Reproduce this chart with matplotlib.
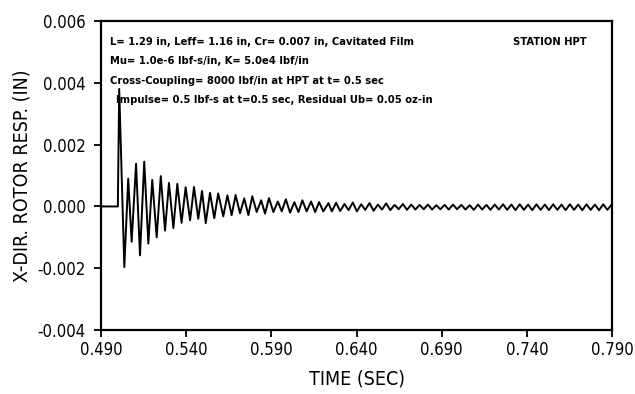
import numpy as np
import matplotlib
matplotlib.use('Agg')
import matplotlib.pyplot as plt
import matplotlib.ticker as ticker

# response extrema (time in sec, displacement in inches)
t_start = [0.4900, 0.4999, 0.5007, 0.5037]
x_start = [0.0, 0.0, 0.0038, -0.00196]

t_ring = [0.5060, 0.5080, 0.5106, 0.5129, 0.5154, 0.5178, 0.5201, 0.5227,
          0.5251, 0.5276, 0.5299, 0.5325, 0.5348, 0.5373, 0.5397, 0.5423,
          0.5446, 0.5471, 0.5493, 0.5515, 0.5540, 0.5565, 0.5588, 0.5618,
          0.5642, 0.5667, 0.5690, 0.5716, 0.5741, 0.5765, 0.5788, 0.5814,
          0.5840, 0.5863, 0.5886, 0.5912, 0.5938, 0.5961, 0.5985, 0.6010,
          0.6035, 0.6059, 0.6082, 0.6107, 0.6133, 0.6157, 0.6180, 0.6205,
          0.6235, 0.6255]
x_ring = [0.00090, -0.00114, 0.00138, -0.00158, 0.00145, -0.00120, 0.00086, -0.00100,
          0.00098, -0.00078, 0.00076, -0.00070, 0.00073, -0.00053, 0.00062, -0.00045,
          0.00063, -0.00040, 0.00050, -0.00054, 0.00044, -0.00038, 0.00042, -0.00032,
          0.00036, -0.00028, 0.00037, -0.00022, 0.00026, -0.00028, 0.00033, -0.00018,
          0.00020, -0.00023, 0.00027, -0.00018, 0.00016, -0.00016, 0.00023, -0.00020,
          0.00014, -0.00018, 0.00020, -0.00016, 0.00016, -0.00018, 0.00014, -0.00016,
          0.00011, -0.00016]

t_tail = [0.6280, 0.6304, 0.6329, 0.6353, 0.6378, 0.6402, 0.6427, 0.6451, 0.6476, 0.6500,
          0.6525, 0.6549, 0.6574, 0.6598, 0.6623, 0.6647, 0.6672, 0.6696, 0.6721, 0.6745,
          0.6770, 0.6794, 0.6819, 0.6843, 0.6868, 0.6892, 0.6917, 0.6941, 0.6966, 0.6990,
          0.7015, 0.7039, 0.7064, 0.7088, 0.7113, 0.7137, 0.7162, 0.7186, 0.7211, 0.7235,
          0.7260, 0.7284, 0.7309, 0.7333, 0.7358, 0.7382, 0.7407, 0.7431, 0.7456, 0.7480,
          0.7505, 0.7529, 0.7554, 0.7578, 0.7603, 0.7627, 0.7652, 0.7676, 0.7701, 0.7725,
          0.7750, 0.7774, 0.7799, 0.7823, 0.7848, 0.7872, 0.7897]
x_tail = [0.00012, -0.00015, 0.00008, -0.00012, 0.00013, -0.00016, 0.00007, -0.00011,
          0.00011, -0.00014, 0.00006, -0.00010, 0.00010, -0.00012, 0.00005, -0.00009,
          0.00008, -0.00011, 0.00006, -0.00010, 0.00005, -0.00009, 0.00006, -0.00010,
          0.00004, -0.00009, 0.00005, -0.00010, 0.00006, -0.00009, 0.00005, -0.00010,
          0.00004, -0.00011, 0.00006, -0.00010, 0.00005, -0.00011, 0.00006, -0.00010,
          0.00007, -0.00011, 0.00006, -0.00012, 0.00007, -0.00011, 0.00006, -0.00012,
          0.00007, -0.00011, 0.00006, -0.00012, 0.00007, -0.00011, 0.00006, -0.00012,
          0.00007, -0.00011, 0.00006, -0.00012, 0.00007, -0.00011, 0.00006, -0.00012,
          0.00007, -0.00011, 0.00006]

t_end = [0.7900]
x_end = [0.00003]

notes = ['L= 1.29 in, Leff= 1.16 in, Cr= 0.007 in, Cavitated Film',
         'Mu= 1.0e-6 lbf-s/in, K= 5.0e4 lbf/in',
         'Cross-Coupling= 8000 lbf/in at HPT at t= 0.5 sec',
         'Impulse= 0.5 lbf-s at t=0.5 sec, Residual Ub= 0.05 oz-in']
station = 'STATION HPT'

x_ticks = [0.490, 0.540, 0.590, 0.640, 0.690, 0.740, 0.790]
y_ticks = [-0.004, -0.002, 0.000, 0.002, 0.004, 0.006]

t = np.concatenate([t_start, t_ring, t_tail, t_end])
x = np.concatenate([x_start, x_ring, x_tail, x_end])

plt.rcParams['font.family'] = ['DejaVu Sans']
plt.rcParams['font.stretch'] = 'condensed'
fontsize = 12

fig = plt.figure(1, figsize=(6.35, 3.94), dpi=100)
ax1 = fig.add_axes([0.159, 0.162, 0.805, 0.785])

ax1.plot(t, x, c='k', lw=1.4)

ax1.set_xlim(0.490, 0.790)
ax1.set_ylim(-0.004, 0.006)
ax1.xaxis.set_major_locator(ticker.FixedLocator(x_ticks))
ax1.yaxis.set_major_locator(ticker.FixedLocator(y_ticks))
ax1.xaxis.set_major_formatter(ticker.FormatStrFormatter('%.3f'))
ax1.yaxis.set_major_formatter(ticker.FormatStrFormatter('%.3f'))

ax1.set_xlabel('TIME (SEC)', fontsize=14, labelpad=7)
ax1.set_ylabel('X-DIR. ROTOR RESP. (IN)', fontsize=14, labelpad=4)

ax1.tick_params(which='major', size=5, width=1.3, direction='out', labelsize=fontsize)
ax1.xaxis.set_tick_params(pad=3)
ax1.yaxis.set_tick_params(pad=6)
for s in ax1.spines.values():
	s.set_linewidth(1.6)

for i, line in enumerate(notes):
	xo = 0.030 if i == 3 else 0.018
	ax1.text(xo, 0.932 - i * 0.0627, line, transform=ax1.transAxes,
		fontsize=8, fontweight='bold', va='center', ha='left')
ax1.text(0.951, 0.932, station, transform=ax1.transAxes,
	fontsize=8, fontweight='bold', va='center', ha='right')

fig.savefig('out.png', dpi=100)
plt.close()
